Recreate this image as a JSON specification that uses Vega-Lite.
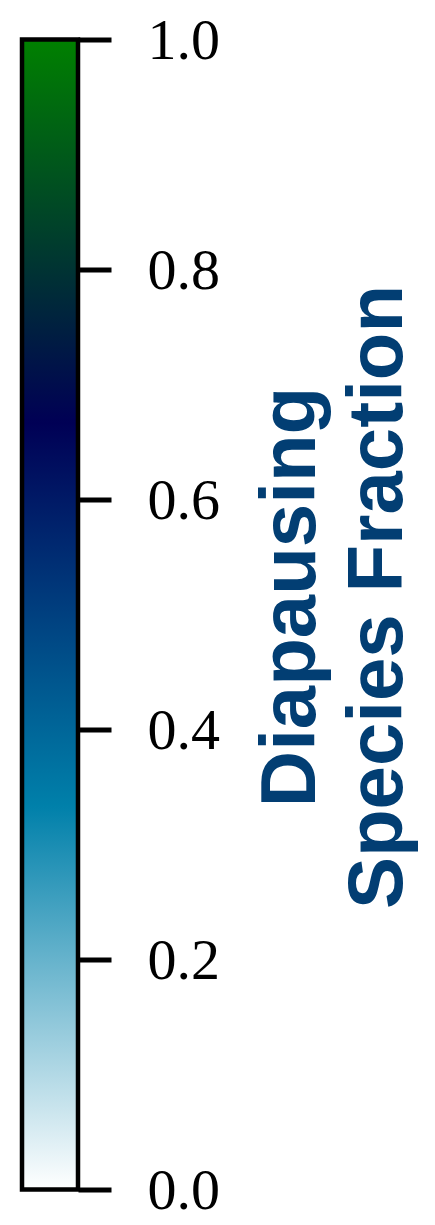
{
  "$schema": "https://vega.github.io/schema/vega-lite/v6.json",
  "autosize": "none",
  "width": 56,
  "height": 1150,
  "padding": {"left": 22, "top": 39.5, "right": 357, "bottom": 35.5},
  "background": "white",
  "config": {"view": {"stroke": null}},
  "data": {"values": [{"lo": 0, "hi": 1}]},
  "mark": {
    "type": "rect",
    "stroke": "black",
    "strokeWidth": 4.5,
    "color": {
      "gradient": "linear",
      "x1": 0, "y1": 0, "x2": 0, "y2": 1,
      "stops": [
        {"offset": 0, "color": "#008000"},
        {"offset": 0.3333, "color": "#000055"},
        {"offset": 0.6667, "color": "#0080aa"},
        {"offset": 1, "color": "#ffffff"}
      ]
    }
  },
  "encoding": {
    "y": {
      "field": "lo",
      "type": "quantitative",
      "scale": {"domain": [0, 1], "nice": false, "zero": false},
      "axis": {
        "orient": "right",
        "values": [0, 0.2, 0.4, 0.6, 0.8, 1.0],
        "format": ".1f",
        "domain": false,
        "grid": false,
        "ticks": true,
        "tickColor": "black",
        "tickWidth": 5,
        "tickSize": 33,
        "labelFont": "Liberation Serif",
        "labelFontSize": 58,
        "labelColor": "black",
        "labelPadding": 36,
        "labelOffset": 2,
        "labelOverlap": false,
        "title": ["Diapausing", "Species Fraction"],
        "titleFont": "Liberation Sans",
        "titleFontWeight": "bold",
        "titleFontSize": 78,
        "titleColor": "#023e73",
        "titleAngle": 270,
        "titleAlign": "center",
        "titleBaseline": "alphabetic",
        "titleLineHeight": 87,
        "titleX": 236,
        "titleY": 557
      }
    },
    "y2": {"field": "hi"}
  }
}
